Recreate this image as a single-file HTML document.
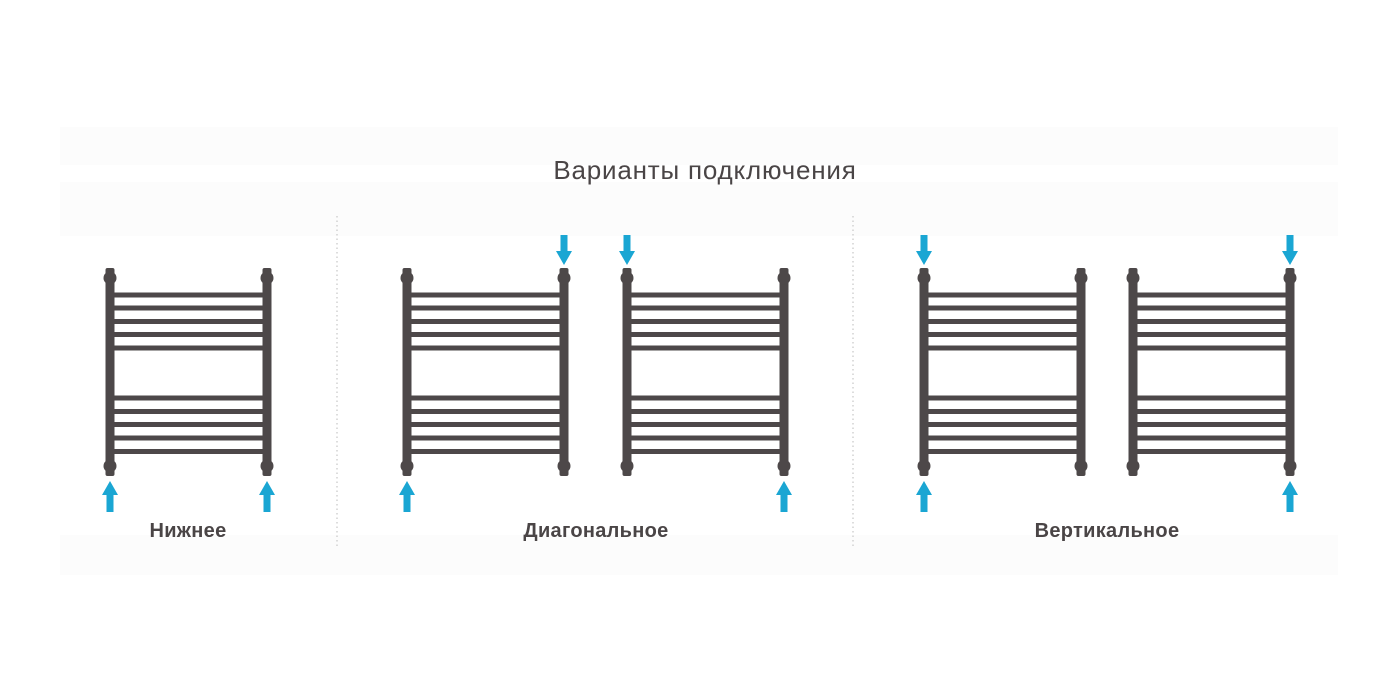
<!DOCTYPE html>
<html><head><meta charset="utf-8"><style>
html,body{margin:0;padding:0;background:#fff;width:1400px;height:700px;overflow:hidden}
</style></head><body>
<svg width="1400" height="700" viewBox="0 0 1400 700" xmlns="http://www.w3.org/2000/svg">
<rect x="60" y="127" width="1278" height="38" fill="#fcfcfc"/>
<rect x="60" y="182" width="1278" height="54" fill="#fcfcfc"/>
<rect x="60" y="535" width="1278" height="40" fill="#fcfcfc"/>
<line x1="337" y1="216" x2="337" y2="546" stroke="#bbb" stroke-width="1" stroke-dasharray="1.5,3"/>
<line x1="853" y1="216" x2="853" y2="546" stroke="#bbb" stroke-width="1" stroke-dasharray="1.5,3"/>
<text x="705" y="179" text-anchor="middle" font-family="Liberation Sans, sans-serif" font-size="26" letter-spacing="0.8" fill="#4a4546">Варианты подключения</text>
<g font-family="Liberation Sans, sans-serif" font-size="20" font-weight="bold" fill="#4a4546" text-anchor="middle" letter-spacing="0.3">
<text x="188" y="537">Нижнее</text>
<text x="596" y="537">Диагональное</text>
<text x="1107" y="537">Вертикальное</text>
</g>
<defs>
<g id="rad" fill="#4d4849">
<rect x="-4.5" y="268" width="9" height="208" rx="2"/>
<rect x="152.5" y="268" width="9" height="208" rx="2"/>
<circle cx="0" cy="278" r="6.5"/><circle cx="157" cy="278" r="6.5"/>
<circle cx="0" cy="466" r="6.5"/><circle cx="157" cy="466" r="6.5"/>
<rect x="0" y="292.5" width="157" height="5"/>
<rect x="0" y="305.5" width="157" height="5"/>
<rect x="0" y="319" width="157" height="5"/>
<rect x="0" y="332" width="157" height="5"/>
<rect x="0" y="345.5" width="157" height="5"/>
<rect x="0" y="395.5" width="157" height="5"/>
<rect x="0" y="409" width="157" height="5"/>
<rect x="0" y="422" width="157" height="5"/>
<rect x="0" y="435.5" width="157" height="5"/>
<rect x="0" y="449" width="157" height="5"/>
</g>
<path id="up" d="M0,481 L8,495 L3.5,495 L3.5,512 L-3.5,512 L-3.5,495 L-8,495 Z" fill="#1aa6d3"/>
<path id="dn" d="M0,265 L8,251 L3.5,251 L3.5,235 L-3.5,235 L-3.5,251 L-8,251 Z" fill="#1aa6d3"/>
</defs>
<use href="#rad" x="110"/>
<use href="#rad" x="407"/>
<use href="#rad" x="627"/>
<use href="#rad" x="924"/>
<use href="#rad" x="1133"/>
<use href="#up" x="110"/><use href="#up" x="267"/>
<use href="#up" x="407"/><use href="#dn" x="564"/>
<use href="#dn" x="627"/><use href="#up" x="784"/>
<use href="#dn" x="924"/><use href="#up" x="924"/>
<use href="#dn" x="1290"/><use href="#up" x="1290"/>
</svg>
</body></html>
